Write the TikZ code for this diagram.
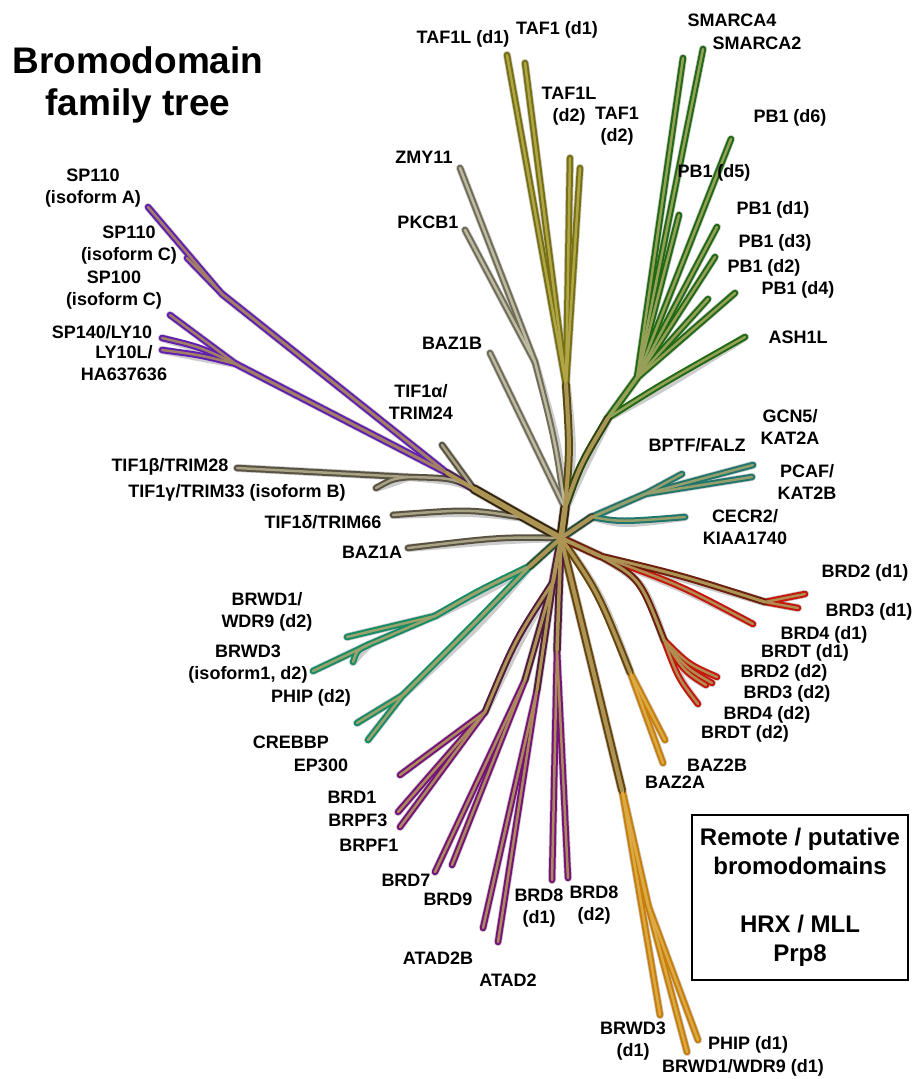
\documentclass[tikz,border=0pt]{standalone}
\usepackage{fontspec}
\setmainfont{Liberation Sans}
\definecolor{trkO}{RGB}{50,35,12}
\definecolor{trkI}{RGB}{172,148,85}
\definecolor{puuO}{RGB}{98,30,178}
\definecolor{puuI}{RGB}{160,128,100}
\colorlet{puumO}{puuO!45!trkO}\colorlet{puumI}{trkI}
\definecolor{gylO}{RGB}{88,82,66}
\definecolor{gylI}{RGB}{170,162,132}
\definecolor{gyuO}{RGB}{112,108,90}
\definecolor{gyuI}{RGB}{190,186,160}
\definecolor{olvO}{RGB}{118,112,18}
\definecolor{olvI}{RGB}{176,166,72}
\colorlet{olvmO}{olvO!50!trkO}\colorlet{olvmI}{trkI}
\definecolor{grnO}{RGB}{32,106,20}
\definecolor{grnI}{RGB}{150,160,88}
\colorlet{grnmO}{grnO!50!trkO}\colorlet{grnmI}{trkI}
\definecolor{tlrO}{RGB}{32,118,108}
\definecolor{tlrI}{RGB}{150,158,108}
\colorlet{tlrmO}{tlrO!45!trkO}\colorlet{tlrmI}{trkI}
\definecolor{redO}{RGB}{198,22,12}
\definecolor{redI}{RGB}{176,140,80}
\colorlet{redmO}{redO!40!trkO}\colorlet{redmI}{trkI}
\definecolor{orgO}{RGB}{200,126,10}
\definecolor{orgI}{RGB}{220,170,68}
\colorlet{orgmO}{orgO!35!trkO}\colorlet{orgmI}{trkI}
\definecolor{ploO}{RGB}{118,18,122}
\definecolor{ploI}{RGB}{170,138,90}
\colorlet{plomO}{ploO!45!trkO}\colorlet{plomI}{trkI}
\definecolor{tllO}{RGB}{22,140,102}
\definecolor{tllI}{RGB}{156,162,108}
\colorlet{tllmO}{tllO!45!trkO}\colorlet{tllmI}{trkI}
\definecolor{shd}{RGB}{204,204,204}
\newcommand\lf{\fontsize{18}{21.5}\selectfont\bfseries}
\tikzset{lbl/.style={font=\lf, align=center, inner sep=0pt},
  brline/.style={line cap=round, line join=round}}
\newcommand\treepaths{%
 % upper-left purple
 \br{puu}{6.5}{(JPa) -- (spA)}%
 \br{puu}{6.5}{(JPa) -- (spC)}%
 \br{puu}{6.5}{(JPb) -- (sp100)}%
 \br{puu}{6.5}{(JPb) .. controls (200,347) .. (sp140)}%
 \br{puu}{6.5}{(JPb) .. controls (200,355) .. (ly10l)}%
 \br{puu}{7}{(JP) -- (JPa)}%
 \br{puu}{7}{(JP) -- (JPb)}%
 % left grey
 \br{gyl}{6.5}{(JL) -- (tif1a)}%
 \br{gyl}{6.5}{(JG) -- (tif1b)}%
 \br{gyl}{6.5}{(JG) .. controls (392,479) .. (tif1g)}%
 \br{gyl}{6.5}{(JL) .. controls (452,478) .. (JG)}%
 \br{gyl}{6.5}{(JD) .. controls (470,509) .. (tif1d)}%
 \br{gyl}{6.5}{(C) .. controls (500,537) .. (baz1a)}%
 % TAF olive
 \br{olv}{6.5}{(JT) -- (taf1ld1)}%
 \br{olv}{6.5}{(JT) -- (taf1d1)}%
 \br{olv}{6.5}{(JT) -- (taf1ld2)}%
 \br{olv}{6.5}{(JT) -- (taf1d2)}%
 % upper grey
 \br{gyu}{6.5}{(Jg) -- (zmy11)}%
 \br{gyu}{6.5}{(Jg) -- (pkcb1)}%
 \br{gyu}{6.5}{(JU) .. controls (555,440) .. (Jg)}%
 \br{gyu}{6.5}{(JU) -- (baz1b)}%
 % green
 \br{grn}{6.5}{(JGr) -- (smarca4)}%
 \br{grn}{6.5}{(JGr) -- (smarca2)}%
 \br{grn}{6.5}{(JGr) -- (pb1d6)}%
 \br{grn}{6.5}{(JGr) -- (pb1d5)}%
 \br{grn}{6.5}{(JGr) -- (pb1d1)}%
 \br{grn}{6.5}{(JGr) -- (pb1d3)}%
 \br{grn}{6.5}{(JGr) -- (pb1d2)}%
 \br{grn}{6.5}{(JGr) -- (pb1d4)}%
 \br{grn}{6.5}{(JG1) .. controls (660,385) .. (ash1l)}%
 \br{grn}{7.5}{(JG1) -- (JGr)}%
 % right teal
 \br{tlr}{6.5}{(JTb) -- (gcn5)}%
 \br{tlr}{6.5}{(JTb) -- (pcaf)}%
 \br{tlr}{6.5}{(JTb) -- (bptf)}%
 \br{tlr}{6.5}{(JTe) .. controls (620,522) .. (cecr2)}%
 \br{tlr}{7}{(JTe) -- (JTb)}%
 % red
 \br{red}{6.5}{(Jd1) -- (brd2d1)}%
 \br{red}{6.5}{(Jd1) -- (brd3d1)}%
 \br{red}{6.5}{(Jr) .. controls (680,585) .. (brd4d1)}%
 \br{red}{6.5}{(Jd2) .. controls (688,664) .. (ra)}%
 \br{red}{6.5}{(Jd2) .. controls (686,668) .. (rb)}%
 \br{red}{6.5}{(Jd2) .. controls (684,671) .. (rc)}%
 \br{red}{6.5}{(Jd2) .. controls (678,678) .. (rd)}%
 \br{redm}{7}{(Jr) .. controls (680,575) .. (Jd1)}%
 \br{redm}{7}{(Jr) .. controls (640,578) .. (Jd2)}%
 % orange
 \br{org}{6.5}{(Jo) -- (baz2b)}%
 \br{org}{6.5}{(Jo) -- (baz2a)}%
 \br{org}{6.5}{(Jl) -- (brwd3d1)}%
 \br{org}{6.5}{(Jl2) -- (phipd1)}%
 \br{org}{6.5}{(Jl2) -- (brwd1d1)}%
 \br{org}{7}{(Jl) -- (Jl2)}%
 \br{orgm}{7.5}{(C) .. controls (598,592) .. (Jo)}%
 \br{orgm}{8}{(C) -- (Jl)}%
 % lower purple
 \br{plo}{6.5}{(Jbr) -- (brd1)}%
 \br{plo}{6.5}{(Jbr) -- (brpf3)}%
 \br{plo}{6.5}{(Jbr) -- (brpf1)}%
 \br{plo}{6.5}{(Jb79) -- (brd7)}%
 \br{plo}{6.5}{(Jb79) -- (brd9)}%
 \br{plo}{6.5}{(Ja) -- (atad2b)}%
 \br{plo}{6.5}{(Ja) -- (atad2)}%
 \br{plo}{6.5}{(J8) -- (brd8d1)}%
 \br{plo}{6.5}{(J8) -- (brd8d2)}%
 \br{plom}{7}{(JLp) .. controls (515,640) .. (Jbr)}%
 \br{plom}{7}{(JLp) -- (Jb79)}%
 \br{plom}{7}{(JLp) -- (Ja)}%
 \br{plom}{7.5}{(C) -- (J8)}%
 \br{plom}{8}{(C) -- (JLp)}%
 % lower-left teal
 \br{tll}{6.5}{(Jbw) -- (brwd1d2)}%
 \br{tll}{6.5}{(Jb3) -- (brwd3)}%
 \br{tll}{6.5}{(Jb3) .. controls (357,650) .. (phipd2)}%
 \br{tll}{6.5}{(Jbw) -- (Jb3)}%
 \br{tll}{6.5}{(Jce) -- (crebbp)}%
 \br{tll}{6.5}{(Jce) -- (ep300)}%
 \br{tll}{7}{(JLt) .. controls (480,590) .. (Jbw)}%
 \br{tll}{7}{(JLt) .. controls (478,620) .. (Jce)}%
 \br{tllm}{8}{(C) -- (JLt)}%
 % trunks
 \br{puum}{8}{(JL) -- (JP)}%
 \br{trk}{9.5}{(C) -- (JD) -- (JL)}%
 \br{olvm}{8}{(JU) .. controls (570,450) .. (JT)}%
 \br{grnm}{8}{(JU) .. controls (580,465) .. (JG1)}%
 \br{trk}{9.5}{(C) -- (JU)}%
 \br{tlrm}{8}{(C) -- (JTe)}%
 \br{redm}{8}{(C) -- (Jr)}%
}
\begin{document}
\begin{tikzpicture}[x=1pt,y=-1pt]
\useasboundingbox[fill=white] (0,0) rectangle (914,1079);
% junctions and leaf ends
\coordinate (C) at (561,538);
\coordinate (JD) at (525,518);
\coordinate (JL) at (474,489);
\coordinate (JP) at (447,473);
\coordinate (JPa) at (222,294);
\coordinate (JPb) at (236,364);
\coordinate (spA) at (148,207);
\coordinate (spC) at (187,258);
\coordinate (sp100) at (170,315);
\coordinate (sp140) at (162,338);
\coordinate (ly10l) at (162,350);
\coordinate (tif1a) at (442,445);
\coordinate (JG) at (408,477);
\coordinate (tif1b) at (237,468);
\coordinate (tif1g) at (376,488);
\coordinate (tif1d) at (393,515);
\coordinate (baz1a) at (408,548);
\coordinate (JU) at (565,508);
\coordinate (JT) at (566,385);
\coordinate (taf1ld1) at (507,55);
\coordinate (taf1d1) at (525,63);
\coordinate (taf1ld2) at (570,158);
\coordinate (taf1d2) at (580,168);
\coordinate (Jg) at (535,362);
\coordinate (zmy11) at (460,168);
\coordinate (pkcb1) at (465,230);
\coordinate (baz1b) at (490,353);
\coordinate (JG1) at (608,418);
\coordinate (JGr) at (637,378);
\coordinate (smarca4) at (683,58);
\coordinate (smarca2) at (703,49);
\coordinate (pb1d6) at (731,139);
\coordinate (pb1d5) at (679,215);
\coordinate (pb1d1) at (717,227);
\coordinate (pb1d3) at (715,257);
\coordinate (pb1d2) at (708,299);
\coordinate (pb1d4) at (735,293);
\coordinate (ash1l) at (745,337);
\coordinate (JTe) at (592,517);
\coordinate (JTb) at (645,494);
\coordinate (gcn5) at (753,465);
\coordinate (pcaf) at (752,477);
\coordinate (bptf) at (682,474);
\coordinate (cecr2) at (685,517);
\coordinate (Jr) at (600,556);
\coordinate (Jd1) at (765,602);
\coordinate (Jd2) at (664,640);
\coordinate (brd2d1) at (805,594);
\coordinate (brd3d1) at (798,608);
\coordinate (brd4d1) at (753,624);
\coordinate (ra) at (717,677);
\coordinate (rb) at (712,683);
\coordinate (rc) at (706,685);
\coordinate (rd) at (698,704);
\coordinate (Jo) at (630,672);
\coordinate (baz2b) at (665,740);
\coordinate (baz2a) at (663,763);
\coordinate (Jl) at (622,790);
\coordinate (Jl2) at (648,905);
\coordinate (brwd3d1) at (660,1015);
\coordinate (phipd1) at (698,1040);
\coordinate (brwd1d1) at (687,1052);
\coordinate (JLp) at (553,582);
\coordinate (Jbr) at (485,712);
\coordinate (Jb79) at (525,680);
\coordinate (Ja) at (537,690);
\coordinate (J8) at (557,650);
\coordinate (brd1) at (400,775);
\coordinate (brpf3) at (398,812);
\coordinate (brpf1) at (400,827);
\coordinate (brd7) at (435,872);
\coordinate (brd9) at (452,865);
\coordinate (atad2b) at (483,928);
\coordinate (atad2) at (498,942);
\coordinate (brd8d1) at (552,880);
\coordinate (brd8d2) at (568,878);
\coordinate (JLt) at (530,566);
\coordinate (Jbw) at (435,616);
\coordinate (Jb3) at (370,644);
\coordinate (Jce) at (403,695);
\coordinate (brwd1d2) at (347,637);
\coordinate (brwd3) at (313,671);
\coordinate (phipd2) at (353,662);
\coordinate (crebbp) at (357,723);
\coordinate (ep300) at (368,740);
% pass 1: shadows
\def\br#1#2#3{\draw[brline, draw=shd, line width={#2pt+1.5pt}, shift={(3,3)}] #3;}
\treepaths
% pass 2: outlines
\def\br#1#2#3{\draw[brline, draw=#1O, line width=#2pt] #3;}
\treepaths
% pass 3: inner
\def\br#1#2#3{\draw[brline, draw=#1I, line width={#2pt-4pt}] #3;}
\treepaths
% title
\node[font=\fontsize{37}{42}\selectfont\bfseries, align=center, inner sep=0pt] (title) at (138,85) {Bromodomain\\family tree};
% labels
\node[lbl] (t-spA) at (93,188) {SP110\\(isoform A)};
\node[lbl] (t-spC) at (129,245) {SP110\\(isoform C)};
\node[lbl] (t-sp100) at (114,290) {SP100\\(isoform C)};
\node[lbl] (t-sp140) at (102,332) {SP140/LY10};
\node[lbl] (t-ly10l) at (124,363) {LY10L/\\HA637636};
\node[lbl] (t-tif1a) at (421,402) {TIF1α/\\TRIM24};
\node[lbl] (t-tif1b) at (170,467) {TIF1β/TRIM28};
\node[lbl] (t-tif1g) at (237,493) {TIF1γ/TRIM33 (isoform B)};
\node[lbl] (t-tif1d) at (323,522) {TIF1δ/TRIM66};
\node[lbl] (t-baz1a) at (372,552) {BAZ1A};
\node[lbl] (t-baz1b) at (452,343) {BAZ1B};
\node[lbl] (t-zmy11) at (424,157) {ZMY11};
\node[lbl] (t-pkcb1) at (428,222) {PKCB1};
\node[lbl] (t-taf1ld1) at (463,39) {TAF1L (d1)};
\node[lbl] (t-taf1d1) at (557,30) {TAF1 (d1)};
\node[lbl] (t-taf1ld2) at (569,106) {TAF1L\\(d2)};
\node[lbl] (t-taf1d2) at (617,126) {TAF1\\(d2)};
\node[lbl] (t-smarca4) at (732,20) {SMARCA4};
\node[lbl] (t-smarca2) at (757,43) {SMARCA2};
\node[lbl] (t-pb1d6) at (790,118) {PB1 (d6)};
\node[lbl] (t-pb1d5) at (714,173) {PB1 (d5)};
\node[lbl] (t-pb1d1) at (773,210) {PB1 (d1)};
\node[lbl] (t-pb1d3) at (775,243) {PB1 (d3)};
\node[lbl] (t-pb1d2) at (764,268) {PB1 (d2)};
\node[lbl] (t-pb1d4) at (798,290) {PB1 (d4)};
\node[lbl] (t-ash1l) at (798,337) {ASH1L};
\node[lbl] (t-bptf) at (697,445) {BPTF/FALZ};
\node[lbl] (t-gcn5) at (790,427) {GCN5/\\KAT2A};
\node[lbl] (t-pcaf) at (807,482) {PCAF/\\KAT2B};
\node[lbl] (t-cecr2) at (745,527) {CECR2/\\KIAA1740};
\node[lbl] (t-brd2d1) at (865,573) {BRD2 (d1)};
\node[lbl] (t-brd3d1) at (869,612) {BRD3 (d1)};
\node[lbl] (t-brd4d1) at (824,635) {BRD4 (d1)};
\node[lbl] (t-brdtd1) at (805,653) {BRDT (d1)};
\node[lbl] (t-brd2d2) at (784,673) {BRD2 (d2)};
\node[lbl] (t-brd3d2) at (787,694) {BRD3 (d2)};
\node[lbl] (t-brd4d2) at (767,715) {BRD4 (d2)};
\node[lbl] (t-brdtd2) at (745,734) {BRDT (d2)};
\node[lbl] (t-baz2b) at (717,765) {BAZ2B};
\node[lbl] (t-baz2a) at (675,782) {BAZ2A};
\node[draw, line width=1.2pt, minimum width=216pt, minimum height=165pt, inner sep=0pt,
  align=center, font=\fontsize{24}{29}\selectfont\bfseries] (box) at (800,897.5)
  {Remote / putative\\bromodomains\\[29pt]HRX / MLL\\Prp8};
\node[lbl] (t-brwd3d1) at (633,1041) {BRWD3\\(d1)};
\node[lbl] (t-phipd1) at (748,1045) {PHIP (d1)};
\node[lbl] (t-brwd1d1) at (743,1068) {BRWD1/WDR9 (d1)};
\node[lbl] (t-brd8d1) at (539,908) {BRD8\\(d1)};
\node[lbl] (t-brd8d2) at (594,905) {BRD8\\(d2)};
\node[lbl] (t-atad2b) at (438,958) {ATAD2B};
\node[lbl] (t-atad2) at (508,980) {ATAD2};
\node[lbl] (t-brd7) at (406,880) {BRD7};
\node[lbl] (t-brd9) at (448,899) {BRD9};
\node[lbl] (t-brd1) at (352,797) {BRD1};
\node[lbl] (t-brpf3) at (358,820) {BRPF3};
\node[lbl] (t-brpf1) at (369,845) {BRPF1};
\node[lbl] (t-crebbp) at (291,742) {CREBBP};
\node[lbl] (t-ep300) at (321,765) {EP300};
\node[lbl] (t-phipd2) at (311,698) {PHIP (d2)};
\node[lbl] (t-brwd3d2) at (248,664) {BRWD3\\(isoform1, d2)};
\node[lbl] (t-brwd1d2) at (267,612) {BRWD1/\\WDR9 (d2)};
\end{tikzpicture}
\end{document}
